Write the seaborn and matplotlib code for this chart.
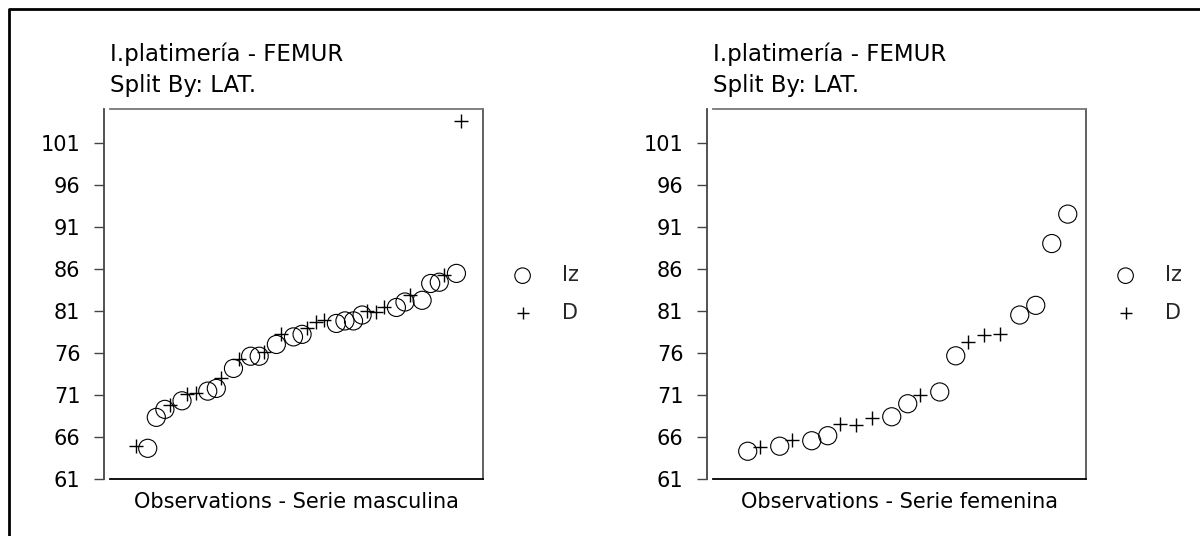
import numpy as np
import pandas as pd
import seaborn as sns
import matplotlib.pyplot as plt
from matplotlib.lines import Line2D
from matplotlib.transforms import offset_copy

# sorted observations, I.platimeria - FEMUR, split by LAT.
masc_lat = ['D', 'Iz', 'Iz', 'Iz', 'D', 'Iz', 'D', 'D', 'Iz', 'Iz',
            'D', 'Iz', 'D', 'Iz', 'Iz', 'D', 'Iz', 'D', 'Iz', 'Iz',
            'D', 'D', 'D', 'Iz', 'Iz', 'Iz', 'Iz', 'D', 'D', 'D',
            'Iz', 'Iz', 'D', 'Iz', 'Iz', 'Iz', 'D', 'Iz', 'D']
masc_vals = [64.95, 64.65, 68.33, 69.28, 69.79, 70.3, 71.1, 71.25, 71.45, 71.77,
             72.96, 74.15, 75.25, 75.6, 75.6, 76.1, 77.0, 78.3, 77.9, 78.2,
             79.0, 79.7, 79.9, 79.5, 79.8, 79.8, 80.5, 80.95, 80.9, 81.5,
             81.4, 82.05, 82.85, 82.25, 84.25, 84.4, 85.2, 85.45, 103.6]

fem_lat = ['Iz', 'D', 'Iz', 'D', 'Iz', 'Iz', 'D', 'D', 'D', 'Iz',
           'Iz', 'D', 'Iz', 'Iz', 'D', 'D', 'D', 'Iz', 'Iz', 'Iz', 'Iz']
fem_vals = [64.3, 64.75, 64.9, 65.6, 65.55, 66.15, 67.5, 67.4, 68.2, 68.4,
            69.95, 71.0, 71.35, 75.65, 77.3, 78.1, 78.3, 80.5, 81.65, 89.0, 92.5]

y_ticks = [61, 66, 71, 76, 81, 86, 91, 96, 101]
title = 'I.platimería - FEMUR\nSplit By: LAT.'
xlabels = ['Observations - Serie masculina', 'Observations - Serie femenina']

sns.set_theme(style='white')
plt.rcParams['font.family'] = ['DejaVu Sans']

fig = plt.figure(figsize=(12, 5.36), dpi=100)
ax1 = fig.add_axes([110 / 1200, 57 / 536, 373 / 1200, 370 / 536])
ax2 = fig.add_axes([713 / 1200, 57 / 536, 373 / 1200, 370 / 536])

panels = [(ax1, masc_lat, masc_vals, (-2.4, 41.1)),
          (ax2, fem_lat, fem_vals, (-1.17, 22.14))]

for i, (ax, lat, vals, xlim) in enumerate(panels):
    df = pd.DataFrame({'obs': np.arange(1, len(vals) + 1), 'val': vals, 'LAT.': lat})
    sns.scatterplot(data=df[df['LAT.'] == 'Iz'], x='obs', y='val', ax=ax,
                    marker='o', s=170, facecolors='none', edgecolor='black',
                    linewidth=0.8, label='Iz')
    # the "+" glyph sits a little left of its observation in the original
    plus_tr = offset_copy(ax.transData, fig=fig, x=-3.5, y=0, units='dots')
    sns.scatterplot(data=df[df['LAT.'] == 'D'], x='obs', y='val', ax=ax,
                    marker='+', s=95, color='black', linewidth=1.0,
                    transform=plus_tr, label='D')

    ax.set_xlim(*xlim)
    ax.set_ylim(61, 105)
    ax.set_xticks([])
    ax.set_yticks(y_ticks)
    ax.tick_params(axis='y', left=True, length=7, width=1, color='#444444',
                   pad=10, labelsize=15, labelcolor='black')
    ax.spines['left'].set_position(('outward', 4.3))
    ax.spines['left'].set_color('#444444')
    ax.spines['bottom'].set_color('black')
    ax.spines['top'].set_color('#777777')
    ax.spines['right'].set_color('#555555')
    for s in ax.spines.values():
        s.set_linewidth(1.3)
        s.set_visible(True)

    ax.set_ylabel('')
    ax.set_xlabel(xlabels[i], fontsize=15, labelpad=9, color='black')
    ax.set_title(title, loc='left', fontsize=16.5, pad=12, linespacing=1.45,
                 color='black')
    leg = ax.legend(loc='center left', bbox_to_anchor=(1.0, 0.5), frameon=False,
                    fontsize=15, handletextpad=0.9, labelspacing=0.85)
    leg.legend_handles[0].set_sizes([125])
    leg.legend_handles[1].set_sizes([70])

fig.add_artist(Line2D([9 / 1200, 9 / 1200, 1], [0, 1 - 9 / 536, 1 - 9 / 536],
                      transform=fig.transFigure, color='black', linewidth=2))

fig.savefig('out.png', dpi=100)
